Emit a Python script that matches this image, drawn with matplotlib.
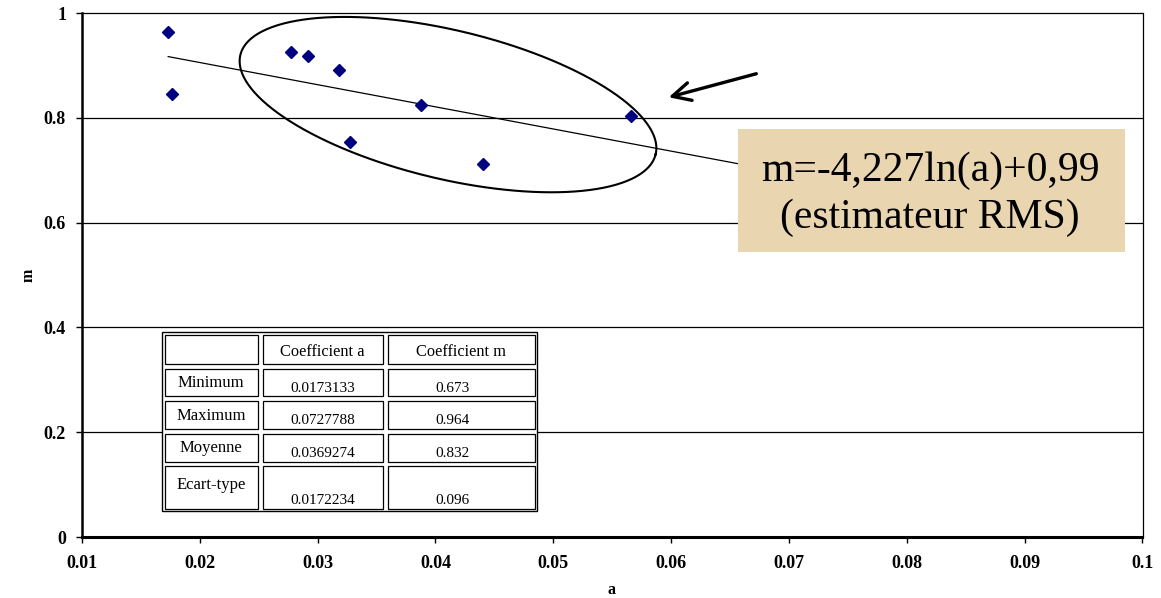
import matplotlib
matplotlib.use('Agg')
import matplotlib.pyplot as plt
import numpy as np
from matplotlib.patches import Rectangle
from matplotlib.lines import Line2D

# ---- data ----
a_vals = [0.0173133, 0.01765, 0.02777, 0.02920, 0.03178, 0.03273, 0.03880, 0.04405, 0.05661, 0.0727788]
m_vals = [0.964, 0.8445, 0.9258, 0.9187, 0.8910, 0.7531, 0.8246, 0.7124, 0.8040, 0.673]
trend_slope = -4.227
trend_intercept = 0.99
x_ticks = [0.01, 0.02, 0.03, 0.04, 0.05, 0.06, 0.07, 0.08, 0.09, 0.1]
x_tick_labels = ['0.01', '0.02', '0.03', '0.04', '0.05', '0.06', '0.07', '0.08', '0.09', '0.1']
y_ticks = [0, 0.2, 0.4, 0.6, 0.8, 1.0]
y_tick_labels = ['0', '0.2', '0.4', '0.6', '0.8', '1']
table_header = ['', 'Coefficient a', 'Coefficient m']
table_rows = ['Minimum', 'Maximum', 'Moyenne', 'Ecart-type']
table_a = ['0.0173133', '0.0727788', '0.0369274', '0.0172234']
table_m = ['0.673', '0.964', '0.832', '0.096']
eq_text = 'm=-4,227ln(a)+0,99\n(estimateur RMS)'
x_label = 'a'
y_label = 'm'

W, H = 1161, 598
fig = plt.figure(figsize=(W / 100, H / 100), dpi=100)
serif = ['Liberation Serif', 'DejaVu Serif']


def fx(px):
    return px / W


def fy(py):
    return 1 - py / H


ax = fig.add_axes([fx(82), fy(537), fx(1142.5) - fx(82), fy(13) - fy(537)])
ax.set_xlim(0.01, 0.1)
ax.set_ylim(0, 1)

# gridlines
for yv in y_ticks[1:-1]:
    ax.axhline(yv, color='black', lw=0.9, zorder=1)

# trend line
tx = np.array([min(a_vals), max(a_vals)])
ax.plot(tx, trend_slope * tx + trend_intercept, color='black', lw=0.9, zorder=2)

# points
ax.plot(a_vals, m_vals, linestyle='none', marker='D', markersize=5.8,
        color='#000080', markeredgecolor='#000080', zorder=3)

ax.set_xticks(x_ticks)
ax.set_xticklabels(x_tick_labels)
ax.set_yticks(y_ticks)
ax.set_yticklabels(y_tick_labels)
for lab in ax.get_xticklabels() + ax.get_yticklabels():
    lab.set_family(serif)
    lab.set_fontweight('bold')
    lab.set_fontsize(13)
ax.tick_params(axis='x', direction='out', length=4, width=1, pad=9, color='black')
ax.tick_params(axis='y', direction='out', length=4, width=1, pad=7.5, color='black')

for s in ['top', 'right']:
    ax.spines[s].set_linewidth(0.9)
ax.spines['left'].set_linewidth(1.8)
ax.spines['bottom'].set_linewidth(2.2)

fig.text(fx(29), fy(275), y_label, rotation=90, ha='center', va='center',
         family=serif, fontweight='bold', fontsize=11.5)
fig.text(fx(612), fy(590), x_label, ha='center', va='center',
         family=serif, fontweight='bold', fontsize=11.5)

# ellipse (annotation, in pixel space)
cx, cy, ra, rb, th = 448, 104.6, 213.5, 74.3, np.deg2rad(13.45)
t = np.linspace(0, 2 * np.pi, 400)
ex = cx + ra * np.cos(t) * np.cos(th) - rb * np.sin(t) * np.sin(th)
ey = cy + ra * np.cos(t) * np.sin(th) + rb * np.sin(t) * np.cos(th)
fig.add_artist(Line2D(fx(ex), fy(ey), color='black', lw=1.5, zorder=4))

# arrow
fig.add_artist(matplotlib.patches.FancyArrowPatch(
    (fx(759), fy(73)), (fx(666), fy(98)), transform=fig.transFigure,
    arrowstyle='->,head_length=1.0,head_width=0.5', lw=2.4, color='black',
    mutation_scale=13, zorder=5))

# equation box
bx0, by0, bx1, by1 = 738, 129, 1125, 252
fig.add_artist(Rectangle((fx(bx0), fy(by1)), fx(bx1) - fx(bx0), fy(by0) - fy(by1),
                         transform=fig.transFigure, facecolor='#E9D6B1',
                         edgecolor='none', zorder=6))
fig.text(fx(930), fy(194), eq_text, ha='center', va='center', family=serif,
         fontsize=30, linespacing=1.3, zorder=7)

# table
col_x = [162, 260, 385, 537]
row_y = [332, 366, 398, 431, 464, 511]
fig.add_artist(Rectangle((fx(col_x[0]), fy(row_y[-1])), fx(col_x[-1]) - fx(col_x[0]),
                         fy(row_y[0]) - fy(row_y[-1]), transform=fig.transFigure,
                         facecolor='white', edgecolor='black', lw=1.0, zorder=6))
ins = 2.5
for r in range(len(row_y) - 1):
    for c in range(len(col_x) - 1):
        x0, x1 = col_x[c] + ins, col_x[c + 1] - ins
        y0, y1 = row_y[r] + ins, row_y[r + 1] - ins
        fig.add_artist(Rectangle((fx(x0), fy(y1)), fx(x1) - fx(x0), fy(y0) - fy(y1),
                                 transform=fig.transFigure, facecolor='none',
                                 edgecolor='black', lw=0.9, zorder=7))

col_c = [(col_x[i] + col_x[i + 1]) / 2 for i in range(3)]
for c in range(1, 3):
    fig.text(fx(col_c[c]), fy(352), table_header[c], ha='center', va='center',
             family=serif, fontsize=11.8, zorder=8)
for r, name in enumerate(table_rows):
    top, bot = row_y[r + 1], row_y[r + 2]
    mid = (top + bot) / 2
    if r == len(table_rows) - 1:
        ly, vy = top + 21, bot - 10
    else:
        ly, vy = mid + 1, mid + 6
    fig.text(fx(col_c[0]), fy(ly), name, ha='center', va='center',
             family=serif, fontsize=12, zorder=8)
    fig.text(fx(col_c[1]), fy(vy), table_a[r], ha='center', va='center',
             family=serif, fontsize=11, zorder=8)
    fig.text(fx(col_c[2] - 8), fy(vy), table_m[r], ha='center', va='center',
             family=serif, fontsize=11, zorder=8)

fig.savefig('out.png', dpi=100)
